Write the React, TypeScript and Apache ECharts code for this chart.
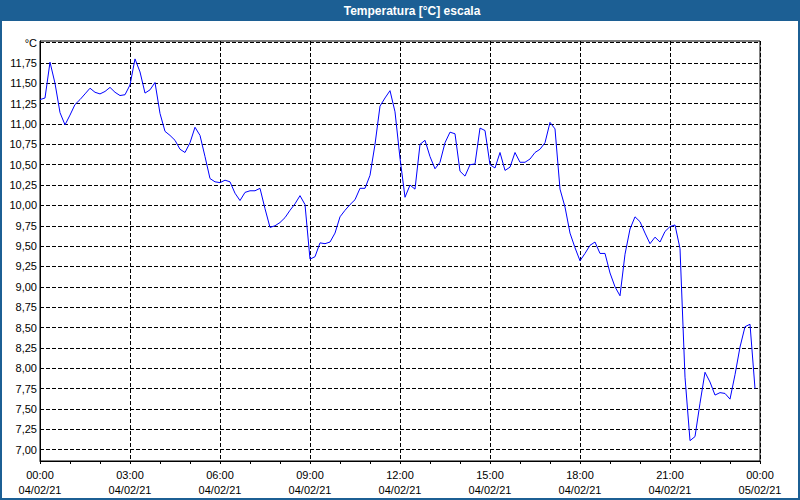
import React, { useEffect, useRef } from "react";
import * as echarts from "echarts";

// Temperature readings every 10 minutes starting 04/02/21 00:00
const temperatures: number[] = [
  11.30, 11.32, 11.76, 11.50, 11.14, 10.99, 11.11, 11.24, 11.30, 11.37,
  11.44, 11.39, 11.37, 11.40, 11.45, 11.39, 11.35, 11.36, 11.48, 11.80,
  11.64, 11.38, 11.42, 11.51, 11.13, 10.91, 10.86, 10.80, 10.69, 10.65,
  10.77, 10.96, 10.86, 10.60, 10.33, 10.29, 10.28, 10.31, 10.29, 10.15,
  10.06, 10.16, 10.18, 10.18, 10.21, 9.96, 9.73, 9.75, 9.79, 9.85,
  9.94, 10.02, 10.12, 10.01, 9.34, 9.37, 9.54, 9.53, 9.55, 9.66,
  9.86, 9.94, 10.01, 10.07, 10.21, 10.21, 10.37, 10.75, 11.22, 11.32,
  11.41, 11.15, 10.58, 10.10, 10.25, 10.20, 10.75, 10.80, 10.60, 10.45,
  10.53, 10.77, 10.90, 10.88, 10.42, 10.36, 10.50, 10.51, 10.95, 10.92,
  10.50, 10.46, 10.65, 10.43, 10.47, 10.65, 10.53, 10.53, 10.57, 10.65,
  10.69, 10.77, 11.02, 10.94, 10.20, 9.98, 9.66, 9.48, 9.32, 9.41,
  9.51, 9.55, 9.41, 9.41, 9.17, 9.00, 8.89, 9.40, 9.71, 9.86,
  9.80, 9.66, 9.53, 9.61, 9.55, 9.68, 9.74, 9.76, 9.47, 7.89,
  7.11, 7.16, 7.57, 7.95, 7.83, 7.67, 7.70, 7.69, 7.62, 7.92,
  8.26, 8.51, 8.54, 7.75,
];
const stepMinutes = 10;

const yTickValues: number[] = [
  7.0, 7.25, 7.5, 7.75, 8.0, 8.25, 8.5, 8.75, 9.0, 9.25, 9.5,
  9.75, 10.0, 10.25, 10.5, 10.75, 11.0, 11.25, 11.5, 11.75, 12.0,
];
const xTickHours: number[] = [0, 3, 6, 9, 12, 15, 18, 21, 24];
const dayLabels: string[] = ["04/02/21", "05/02/21"];
const title = "Temperatura [°C] escala";
const unitLabel = "°C";

const FONT = "'Liberation Sans', Arial, sans-serif";
const FRAME_BLUE = "#1c5f94";

export default function App() {
  const ref = useRef<HTMLDivElement>(null);

  useEffect(() => {
    if (!ref.current) return;
    const chart = echarts.init(ref.current, undefined, { renderer: "svg" });

    const lineData = temperatures.map((v, i) => [(i * stepMinutes) / 60, v]);

    chart.setOption({
      animation: false,
      backgroundColor: "#ffffff",
      grid: {
        left: 40,
        top: 41,
        width: 720,
        height: 420,
        show: true,
        borderColor: "#000000",
        borderWidth: 1,
        backgroundColor: "#ffffff",
      },
      graphic: [
        {
          type: "rect",
          shape: { x: 0, y: 0, width: 800, height: 21 },
          style: { fill: FRAME_BLUE },
          silent: true,
        },
        {
          type: "rect",
          shape: { x: 0, y: 0, width: 2, height: 500 },
          style: { fill: FRAME_BLUE },
          silent: true,
        },
        {
          type: "rect",
          shape: { x: 798, y: 0, width: 2, height: 500 },
          style: { fill: FRAME_BLUE },
          silent: true,
        },
        {
          type: "rect",
          shape: { x: 0, y: 498, width: 800, height: 2 },
          style: { fill: FRAME_BLUE },
          silent: true,
        },
        {
          type: "text",
          x: 412,
          y: 11,
          style: {
            text: title,
            fill: "#ffffff",
            font: `bold 12px ${FONT}`,
            align: "center",
            verticalAlign: "middle",
          },
          silent: true,
        },
      ],
      xAxis: {
        type: "value",
        min: 0,
        max: 24,
        interval: 3,
        axisLine: { show: true, lineStyle: { color: "#000000", width: 1 } },
        axisTick: { show: true, length: 3, lineStyle: { color: "#000000" } },
        minorTick: { show: true, splitNumber: 3, length: 3, lineStyle: { color: "#000000" } },
        splitLine: {
          show: true,
          lineStyle: { color: "#000000", type: [4, 2], width: 1 },
        },
        axisLabel: {
          color: "#000000",
          fontFamily: FONT,
          fontSize: 11,
          lineHeight: 15,
          margin: 6,
          formatter: (h: number) => {
            const hh = Math.round(h) % 24;
            const day = h >= 24 ? dayLabels[1] : dayLabels[0];
            return `${String(hh).padStart(2, "0")}:00\n${day}`;
          },
          customValues: xTickHours,
        },
      },
      yAxis: {
        type: "value",
        min: 6.86,
        max: 12.02,
        axisLine: { show: true, lineStyle: { color: "#000000", width: 1 } },
        axisTick: { show: false },
        splitLine: { show: false },
        axisLabel: {
          color: "#000000",
          fontFamily: FONT,
          fontSize: 11,
          margin: 3,
          customValues: yTickValues,
          formatter: (v: number) =>
            v >= 11.999 ? unitLabel : v.toFixed(2).replace(".", ","),
        },
      },
      series: [
        {
          type: "line",
          data: lineData,
          showSymbol: false,
          symbol: "none",
          lineStyle: { color: "#0000ff", width: 1 },
          z: 3,
          markLine: {
            silent: true,
            symbol: "none",
            label: { show: false },
            lineStyle: { color: "#000000", type: [4, 2], width: 1 },
            data: yTickValues.map((v) => ({ yAxis: v })),
            z: 1,
          },
        },
      ],
    });

    return () => chart.dispose();
  }, []);

  return <div ref={ref} style={{ width: 800, height: 500, position: "absolute", left: 0, top: 0 }} />;
}
